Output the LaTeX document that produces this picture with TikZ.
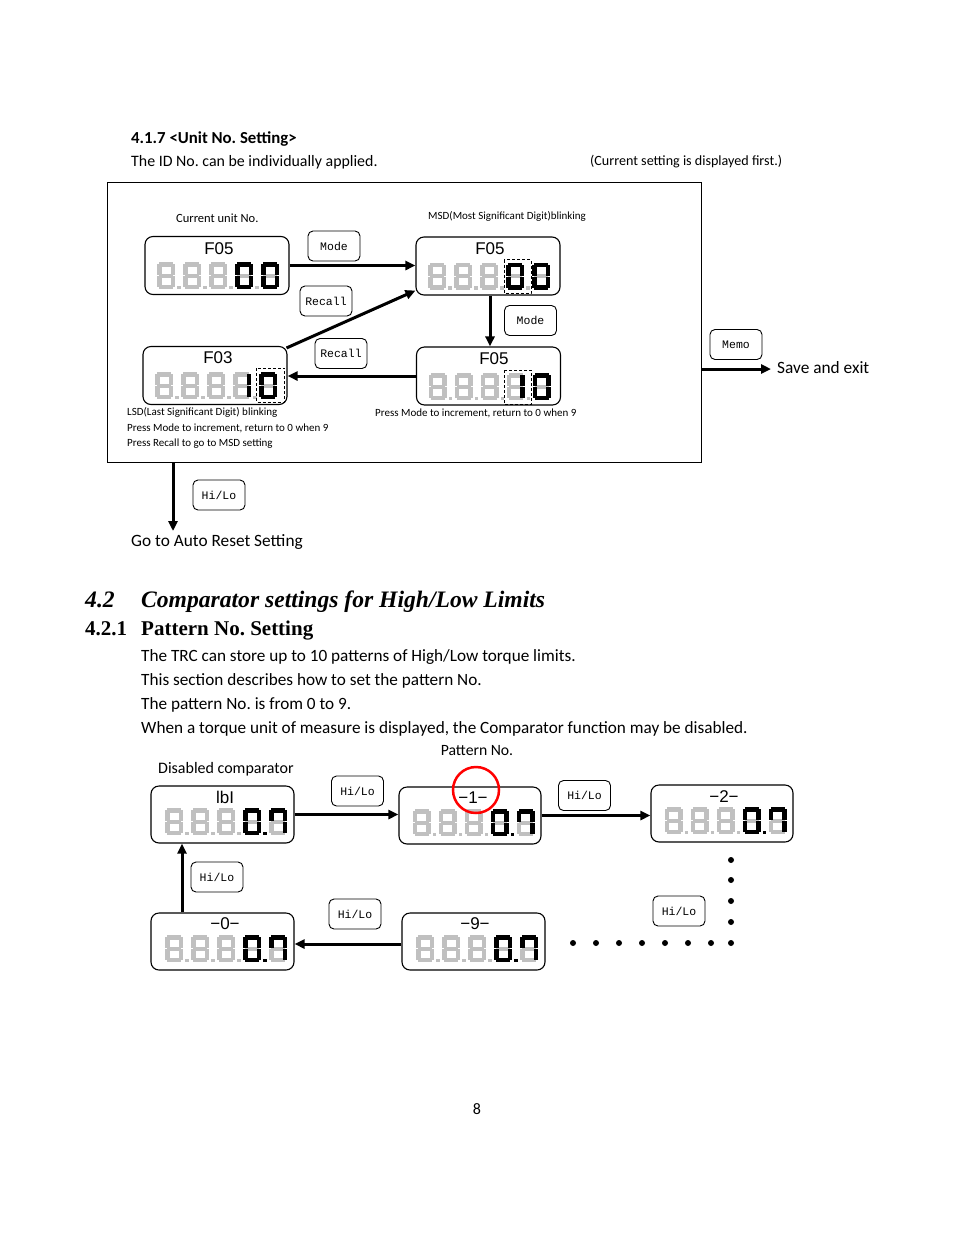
\documentclass[tikz,border=0pt]{standalone}
\usepackage{fontspec}
\setmainfont{Carlito}
\newfontfamily\arialf{Liberation Sans}
\newfontfamily\monof{Liberation Mono}
\newfontfamily\serifh{Liberation Serif}
\usetikzlibrary{arrows.meta}
\frenchspacing
\definecolor{segoff}{RGB}{192,192,192}
\def\sgA#1{\fill[#1] (2,0) rectangle (16,4.5);}
\def\sgB#1{\fill[#1] (13.5,2) rectangle (18,13);}
\def\sgC#1{\fill[#1] (13.5,14) rectangle (18,25);}
\def\sgD#1{\fill[#1] (2,22.5) rectangle (16,27);}
\def\sgE#1{\fill[#1] (0,14) rectangle (4.5,25);}
\def\sgF#1{\fill[#1] (0,2) rectangle (4.5,13);}
\def\sgG#1{\fill[#1] (2,11.5) rectangle (16,15.5);}
\def\sgN#1{}
\newcommand\sdig[4]{\begin{scope}[shift={(#1,#2)}]
 \foreach \s in {A,B,C,D,E,F,G}{\csname sg\s\endcsname{segoff}}
 \foreach \s in {#3}{\csname sg\s\endcsname{black}}
 \fill[#4] (20,23.5) rectangle (23.5,27);
\end{scope}}
\newcommand\grays[2]{\sdig{#1}{#2}{N}{segoff}\sdig{#1+26}{#2}{N}{segoff}\sdig{#1+52}{#2}{N}{segoff}}
\newcommand\rowOO[2]{\grays{#1}{#2}\sdig{#1+78}{#2}{A,B,C,D,E,F}{segoff}\sdig{#1+104}{#2}{A,B,C,D,E,F}{opacity=0}}
\newcommand\rowIO[2]{\grays{#1}{#2}\sdig{#1+78}{#2}{B,C}{segoff}\sdig{#1+104}{#2}{A,B,C,D,E,F}{opacity=0}}
\newcommand\rowOS[2]{\grays{#1}{#2}\sdig{#1+78}{#2}{A,B,C,D,E,F}{black}\sdig{#1+104}{#2}{A,B,C,F}{opacity=0}}
\tikzset{
 disp/.style={draw, rounded corners=8pt, line width=1.1pt, minimum width=144pt, minimum height=58pt, inner sep=0pt},
 btn/.style={draw, rounded corners=5pt, line width=0.9pt, minimum width=52pt, minimum height=30pt, inner sep=0pt, font=\monof\fontsize{11.5}{13}\selectfont},
 arr/.style={line width=3pt, -{Triangle[length=10pt,width=9pt]}},
 ttl/.style={font=\arialf\fontsize{17}{20}\selectfont, inner sep=0pt},
 tiny/.style={font=\fontsize{11}{13}\selectfont, inner sep=0pt, anchor=base west},
 txt/.style={font=\fontsize{17.3}{20}\selectfont, inner sep=0pt, anchor=base west},
 body/.style={font=\fontsize{17.2}{20}\selectfont, inner sep=0pt, anchor=base west},
 hd/.style={font=\serifh\bfseries\itshape\fontsize{23.6}{27}\selectfont, inner sep=0pt, anchor=base west},
 hdb/.style={font=\serifh\bfseries\fontsize{21}{25}\selectfont, inner sep=0pt, anchor=base west},
 blinkbox/.style={draw, line width=0.9pt, dash pattern=on 3pt off 2pt},
 dot/.style={fill, circle, inner sep=0pt, minimum size=6pt}
}
\begin{document}
\begin{tikzpicture}[x=1pt,y=-1pt]
\useasboundingbox[fill=white] (0,0) rectangle (954,1235);
% header
\node[txt, font=\bfseries\fontsize{16.8}{20}\selectfont] (h417) at (131,143) {4.1.7 <Unit No. Setting>};
\node[txt, font=\fontsize{15.9}{19}\selectfont] (idtxt) at (131,166) {The ID No. can be individually applied.};
\node[txt, font=\fontsize{14.1}{17}\selectfont] (cur) at (590,165) {(Current setting is displayed first.)};
% frame
\node[draw, line width=0.8pt, minimum width=594pt, minimum height=280pt, inner sep=0pt] (frame) at (404,322) {};
\node[tiny, font=\fontsize{12.5}{15}\selectfont] (cun) at (176,222) {Current unit No.};
\node[tiny] (msd) at (428,219.5) {MSD(Most Significant Digit)blinking};
% displays top
\node[disp] (A) at (217,265.5) {};
\node[ttl] (At) at (219,249) {F05};
\rowOO{157}{262}
\node[disp] (B) at (488,266) {};
\node[ttl] (Bt) at (490,249) {F05};
\rowOO{428}{262.5}
\draw[blinkbox] (504,259.5) rectangle (531,293);
\node[disp] (C) at (215,375.5) {};
\node[ttl] (Ct) at (218,358) {F03};
\rowIO{155}{372}
\draw[blinkbox] (256.5,368) rectangle (284.5,402);
\node[disp] (D) at (488.5,376) {};
\node[ttl] (Dt) at (494,359) {F05};
\rowIO{428.5}{373}
\draw[blinkbox] (504,370) rectangle (531.5,404);
% buttons top
\node[btn] (m1) at (334,246) {Mode};
\node[btn] (r1) at (326,301) {Recall};
\node[btn] (m2) at (530.5,320.5) {Mode};
\node[btn] (r2) at (341,353.5) {Recall};
\node[btn] (memo) at (736,344.5) {Memo};
\node[btn] (hl0) at (219,495) {Hi/Lo};
% arrows top
\draw[arr] (A.east) -- (A.east -| B.west);
\draw[arr] ([xshift=-1pt,yshift=-2pt]C.north east) -- ([yshift=5pt]B.south west);
\draw[arr] ([xshift=2pt]B.south) -- ([xshift=1.5pt]D.north);
\draw[arr] (D.west) -- (D.west -| C.east);
% notes
\node[tiny] (n1) at (127,415.5) {LSD(Last Significant Digit) blinking};
\node[tiny] (n2) at (127,431) {Press Mode to increment, return to 0 when 9};
\node[tiny] (n3) at (127,446.5) {Press Recall to go to MSD setting};
\node[tiny] (n4) at (375,416.5) {Press Mode to increment, return to 0 when 9};
% exits
\node[txt] (save) at (777,373) {Save and exit};
\coordinate (sv) at (771,369);
\draw[arr] (frame.east |- sv) -- (sv);
\coordinate (gd) at (173,531);
\draw[arr] (frame.south -| gd) -- (gd);
\node[txt] (go) at (131,546) {Go to Auto Reset Setting};
% section 4.2
\node[hd] (s42n) at (85,607) {4.2};
\node[hd] (s42) at (141,607) {Comparator settings for High/Low Limits};
\node[hdb] (s421n) at (85,635) {4.2.1};
\node[hdb] (s421) at (141,635) {Pattern No. Setting};
\node[body] (p1) at (141,661) {The TRC can store up to 10 patterns of High/Low torque limits.};
\node[body] (p2) at (141,685) {This section describes how to set the pattern No.};
\node[body] (p3) at (141,709) {The pattern No. is from 0 to 9.};
\node[body] (p4) at (141,733) {When a torque unit of measure is displayed, the Comparator function may be disabled.};
\node[txt, font=\fontsize{15.7}{18}\selectfont, anchor=base] (pn) at (477,755.5) {Pattern No.};
\node[txt, font=\fontsize{16}{19}\selectfont] (dc) at (158,773) {Disabled comparator};
% lower displays
\node[disp, minimum width=143pt, minimum height=57pt] (E) at (222.5,814.5) {};
\node[ttl] (Et) at (225,797) {lbI};
\rowOS{165}{808}
\node[disp, minimum width=142pt, minimum height=57pt] (F) at (470,815.5) {};
\node[ttl] (Ft) at (473,798) {−1−};
\rowOS{412.5}{809}
\node[disp, minimum width=142pt, minimum height=57pt] (G) at (722,813.5) {};
\node[ttl] (Gt) at (724,797) {−2−};
\rowOS{664.5}{807}
\node[disp, minimum width=143pt, minimum height=57pt] (H) at (473.5,941.5) {};
\node[ttl] (Ht) at (475,924) {−9−};
\rowOS{416}{935}
\node[disp, minimum width=143pt, minimum height=57pt] (I) at (222.5,941.5) {};
\node[ttl] (It) at (225,924) {−0−};
\rowOS{165}{935}
\draw[red, line width=2.5pt] (476,790) circle (23);
% lower buttons
\node[btn] (hl1) at (357.5,791) {Hi/Lo};
\node[btn] (hl2) at (584.5,795.5) {Hi/Lo};
\node[btn] (hl3) at (217,877) {Hi/Lo};
\node[btn] (hl4) at (355,914) {Hi/Lo};
\node[btn] (hl5) at (679,911) {Hi/Lo};
% lower arrows
\draw[arr] (E.east) -- (E.east -| F.west);
\draw[arr] (F.east) -- (F.east -| G.west);
\draw[arr] ([yshift=-2.5pt]H.west) -- ([yshift=-2.5pt]I.east);
\draw[arr] ([xshift=-40.5pt]I.north) -- ([xshift=-40.5pt]E.south);
% dots
\foreach \yy [count=\k] in {860,880,901,922,943} \node[dot] (vd\k) at (731,\yy) {};
\foreach \xx [count=\k] in {573,596,619,642,665,688,711} \node[dot] (hd\k) at (\xx,943) {};
% page number
\node[body, font=\fontsize{16}{19}\selectfont, anchor=base] (pg) at (477,1114) {8};
\end{tikzpicture}
\end{document}
